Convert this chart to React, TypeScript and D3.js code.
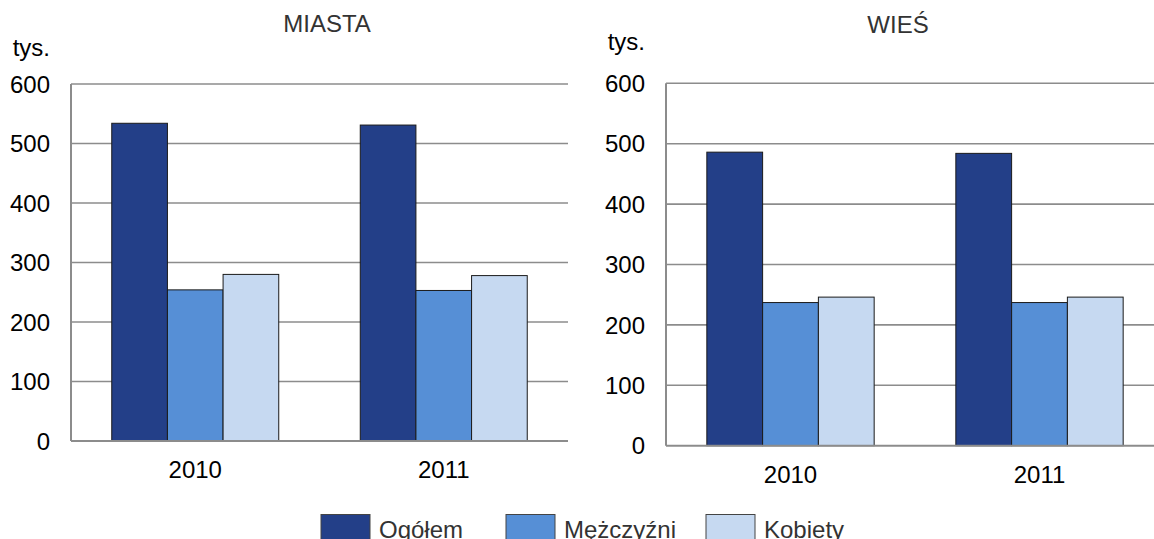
import React from "react";
import * as d3 from "d3";

const years = ["2010", "2011"];
const seriesNames = ["Ogółem", "Mężczyźni", "Kobiety"];
const colors = ["#233f88", "#568fd6", "#c6d9f1"];
const yTicks = [0, 100, 200, 300, 400, 500, 600];

// values in thousands, [Ogółem, Mężczyźni, Kobiety] per year
const miasta = [
  [534, 254, 280],
  [531, 253, 278],
];
const wies = [
  [486, 237, 246],
  [484, 237, 246],
];

const FONT = "Liberation Sans, Arial, sans-serif";
const FS = 24;

type PanelProps = {
  title: string;
  values: number[][];
  left: number;
  top: number;
  bottom: number;
  width: number;
  titleX: number;
  titleY: number;
  unitY: number;
};

function Panel({ title, values, left, top, bottom, width, titleX, titleY, unitY }: PanelProps) {
  const y = d3.scaleLinear().domain([0, 600]).range([bottom, top]);
  const x0 = d3
    .scaleBand<string>()
    .domain(years)
    .range([left, left + width])
    .paddingInner(0.328)
    .paddingOuter(0.164);
  const x1 = d3
    .scaleBand<string>()
    .domain(seriesNames)
    .range([0, x0.bandwidth()]);

  return (
    <g>
      <text x={titleX} y={titleY} textAnchor="middle" fontSize={FS} fill="#333">
        {title}
      </text>
      <text x={left - 21} y={unitY} textAnchor="end" fontSize={FS} fill="#000">
        tys.
      </text>
      {yTicks.map((t) => (
        <g key={t}>
          {t > 0 && (
            <line x1={left} x2={left + width} y1={y(t)} y2={y(t)} stroke="#8c8c8c" strokeWidth={1.6} />
          )}
          <text x={left - 21} y={y(t)} dy="0.36em" textAnchor="end" fontSize={FS} fill="#000">
            {t}
          </text>
        </g>
      ))}
      {years.map((yr, i) => (
        <g key={yr} transform={`translate(${x0(yr)},0)`}>
          {seriesNames.map((s, j) => (
            <rect
              key={s}
              x={x1(s)}
              y={y(values[i][j])}
              width={x1.bandwidth()}
              height={y(0) - y(values[i][j])}
              fill={colors[j]}
              stroke="#1a1a1a"
              strokeWidth={1}
            />
          ))}
          <text x={x0.bandwidth() / 2} y={bottom + 37} textAnchor="middle" fontSize={FS} fill="#000">
            {yr}
          </text>
        </g>
      ))}
      <line x1={left} x2={left} y1={top} y2={bottom} stroke="#8c8c8c" strokeWidth={2} />
      <line x1={left} x2={left + width} y1={bottom} y2={bottom} stroke="#8c8c8c" strokeWidth={2} />
    </g>
  );
}

const legendX = [321, 506, 706];

export default function App() {
  return (
    <svg
      width={1154}
      height={539}
      style={{ position: "absolute", left: 0, top: 0, background: "#fff" }}
      fontFamily={FONT}
    >
      <rect width={1154} height={539} fill="#fff" />
      <Panel
        title="MIASTA"
        values={miasta}
        left={71}
        top={84}
        bottom={441}
        width={497}
        titleX={327}
        titleY={32}
        unitY={56}
      />
      <Panel
        title="WIEŚ"
        values={wies}
        left={666}
        top={83.3}
        bottom={445.7}
        width={498}
        titleX={898}
        titleY={33}
        unitY={50}
      />
      {seriesNames.map((s, i) => (
        <g key={s}>
          <rect
            x={legendX[i]}
            y={514.5}
            width={49}
            height={30}
            fill={colors[i]}
            stroke="#444"
            strokeWidth={1}
          />
          <text x={legendX[i] + 58} y={538} fontSize={FS} fill="#333">
            {s}
          </text>
        </g>
      ))}
    </svg>
  );
}
